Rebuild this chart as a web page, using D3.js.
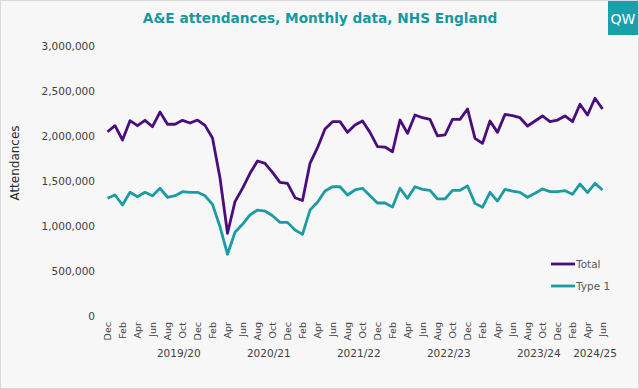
<!DOCTYPE html>
<html lang="en">
<head>
<meta charset="utf-8">
<title>A&amp;E attendances</title>
<script src="https://cdn.jsdelivr.net/npm/d3@7"></script>
<style>
  body { margin: 0; background: #fff; }
  svg text { font-family: "DejaVu Sans", Verdana, sans-serif; }
</style>
</head>
<body>
<div id="chart"></div>
<script>
  // months Dec 2018 .. Jun 2024
  const months = d3.timeMonth.range(new Date(2018, 11, 1), new Date(2024, 6, 1));

  const total = [
    2044000, 2111000, 1952000, 2167000, 2111000, 2171000, 2100000, 2263000, 2127000, 2127000, 2171000, 2141000,
    2174000, 2115000, 1975000, 1530000, 916000, 1267000, 1415000, 1582000, 1719000, 1693000, 1593000, 1482000,
    1471000, 1311000, 1280000, 1693000, 1867000, 2074000, 2156000, 2156000, 2037000, 2119000, 2163000, 2037000,
    1878000, 1874000, 1822000, 2174000, 2026000, 2230000, 2200000, 2182000, 1997000, 2008000, 2182000, 2182000,
    2297000, 1971000, 1915000, 2163000, 2037000, 2237000, 2222000, 2200000, 2108000, 2163000, 2219000, 2156000,
    2174000, 2219000, 2156000, 2349000, 2230000, 2416000, 2297000
  ];

  const type1 = [
    1304000, 1341000, 1230000, 1371000, 1322000, 1371000, 1333000, 1416000, 1316000, 1333000, 1378000, 1371000,
    1371000, 1333000, 1237000, 989000, 682000, 927000, 1016000, 1119000, 1174000, 1163000, 1111000, 1037000,
    1037000, 952000, 904000, 1174000, 1260000, 1385000, 1433000, 1433000, 1341000, 1397000, 1416000, 1333000,
    1252000, 1252000, 1208000, 1416000, 1304000, 1433000, 1404000, 1393000, 1297000, 1297000, 1393000, 1393000,
    1441000, 1248000, 1204000, 1371000, 1274000, 1404000, 1385000, 1371000, 1316000, 1360000, 1408000, 1378000,
    1378000, 1389000, 1349000, 1463000, 1367000, 1471000, 1397000
  ];

  const yTicks = [0, 500000, 1000000, 1500000, 2000000, 2500000, 3000000];
  const fiscalYears = ["2019/20", "2020/21", "2021/22", "2022/23", "2023/24", "2024/25"];
  const seriesNames = ["Total", "Type 1"];
  const colors = ["#4b0d7c", "#1b9ca3"];

  const width = 639, height = 389;
  const svg = d3.select("#chart").append("svg")
    .attr("width", width).attr("height", height);

  svg.append("rect")
    .attr("x", 0.5).attr("y", 0.5)
    .attr("width", width - 1).attr("height", height - 1)
    .attr("fill", "#f7f7f7").attr("stroke", "#d9d9d9");

  // title + logo
  svg.append("text")
    .attr("x", 320).attr("y", 23)
    .attr("text-anchor", "middle")
    .attr("font-size", "13.7px").attr("font-weight", "bold")
    .attr("fill", "#17989f")
    .text("A&E attendances, Monthly data, NHS England");

  svg.append("rect")
    .attr("x", 608).attr("y", 1).attr("width", 30).attr("height", 34)
    .attr("fill", "#1aa0a8");
  svg.append("text")
    .attr("x", 623).attr("y", 24)
    .attr("text-anchor", "middle")
    .attr("font-size", "14px").attr("fill", "#fff")
    .attr("font-family", "Liberation Sans, Arial, sans-serif")
    .text("QW");

  const x = d3.scalePoint()
    .domain(months.map(d => +d))
    .range([107.5, 602.5]);

  const y = d3.scaleLinear()
    .domain([0, 3000000])
    .range([315.7, 45.7]);

  // y axis
  const yAxis = svg.append("g")
    .attr("transform", "translate(95,0)")
    .call(d3.axisLeft(y).tickValues(yTicks).tickSize(0).tickPadding(0)
      .tickFormat(d3.format(",")));
  yAxis.select(".domain").remove();
  yAxis.selectAll("text")
    .attr("font-size", "10.5px").attr("fill", "#404040")
    .attr("font-family", "DejaVu Sans, Verdana, sans-serif");

  svg.append("text")
    .attr("transform", "translate(19,163) rotate(-90)")
    .attr("text-anchor", "middle")
    .attr("font-size", "12px").attr("fill", "#262626")
    .text("Attendances");

  // x axis month labels
  const fmtMonth = d3.timeFormat("%b");
  svg.append("g")
    .selectAll("text")
    .data(months.filter((d, i) => i % 2 === 0))
    .join("text")
      .attr("transform", d => `translate(${x(+d) + 3.5},322) rotate(-90)`)
      .attr("text-anchor", "end")
      .attr("font-size", "9.5px").attr("fill", "#404040")
      .text(d => fmtMonth(d));

  // fiscal year labels, centred under each year's months
  const fy = d => {
    const yr = d.getMonth() >= 3 ? d.getFullYear() : d.getFullYear() - 1;
    return `${yr}/${String((yr + 1) % 100).padStart(2, "0")}`;
  };
  svg.append("g")
    .selectAll("text")
    .data(fiscalYears)
    .join("text")
      .attr("x", label => d3.mean(months.filter(m => fy(m) === label), m => x(+m)))
      .attr("y", 357)
      .attr("text-anchor", "middle")
      .attr("font-size", "10.5px").attr("fill", "#404040")
      .text(label => label);

  // lines
  const line = d3.line()
    .x((d, i) => x(+months[i]))
    .y(d => y(d));

  [total, type1].forEach((values, k) => {
    svg.append("path")
      .datum(values)
      .attr("fill", "none")
      .attr("stroke", colors[k])
      .attr("stroke-width", 2.8)
      .attr("stroke-linejoin", "round")
      .attr("d", line);
  });

  // legend
  const legend = svg.append("g").attr("transform", "translate(551,264)");
  seriesNames.forEach((name, k) => {
    const g = legend.append("g").attr("transform", `translate(0,${k * 22})`);
    g.append("line")
      .attr("x1", 0).attr("x2", 24)
      .attr("stroke", colors[k]).attr("stroke-width", 2.8);
    g.append("text")
      .attr("x", 25).attr("y", 4)
      .attr("font-size", "10.5px").attr("fill", "#595959")
      .text(name);
  });
</script>
</body>
</html>
